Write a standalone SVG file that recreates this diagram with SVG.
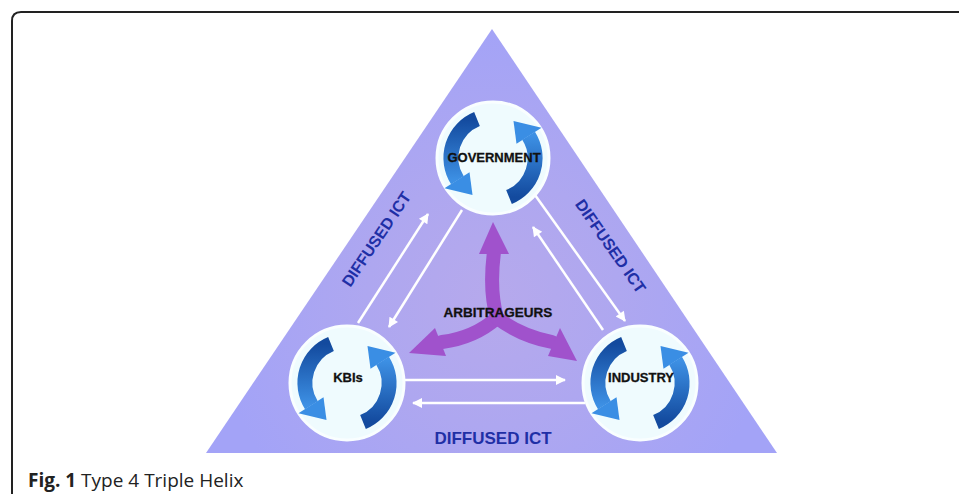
<svg xmlns="http://www.w3.org/2000/svg" width="959" height="494" viewBox="0 0 959 494">
<style>
.lbl{font-family:"Liberation Sans",Arial,sans-serif;font-weight:bold;fill:#111;stroke:#111;stroke-width:0.3;text-anchor:middle}
.ict{font-family:"Liberation Sans",Arial,sans-serif;font-weight:bold;fill:#1f2fa6;text-anchor:middle}
.wl{stroke:#ffffff;stroke-width:2.5;fill:none;marker-end:url(#wa)}
.pp{stroke:#a052cc;stroke-width:14;fill:none;stroke-linecap:round}
.ph{fill:#a052cc}
.circ{fill:#effbfe;stroke:#f9feff;stroke-width:3}
</style>
<defs>
<radialGradient id="tri" cx="493" cy="300" r="280" gradientUnits="userSpaceOnUse">
<stop offset="0" stop-color="#b6a9ec"/>
<stop offset="0.45" stop-color="#aea7f0"/>
<stop offset="1" stop-color="#a3a3f7"/>
</radialGradient>
<linearGradient id="gl" x1="0" y1="0" x2="0" y2="1">
<stop offset="0" stop-color="#134a9e"/>
<stop offset="1" stop-color="#3d90e4"/>
</linearGradient>
<linearGradient id="gr" x1="0" y1="1" x2="0" y2="0">
<stop offset="0" stop-color="#134a9e"/>
<stop offset="1" stop-color="#3d90e4"/>
</linearGradient>
<marker id="wa" viewBox="0 0 10 10" refX="9" refY="5" markerWidth="12" markerHeight="10" markerUnits="userSpaceOnUse" orient="auto">
<path d="M0,0 L10,5 L0,10 z" fill="#ffffff"/>
</marker>
<g id="cyc">
<path d="M-16,-39 A42 42 0 0 0 -35.6,22.3" fill="none" stroke="url(#gl)" stroke-width="15"/>
<polygon points="-48.5,30.2 -23.5,14.2 -20.5,37" fill="#3a8ee4"/>
<path d="M16,39 A42 42 0 0 0 35.6,-22.3" fill="none" stroke="url(#gr)" stroke-width="15"/>
<polygon points="48.5,-30.2 23.5,-14.2 20.5,-37" fill="#3a8ee4"/>
</g>
</defs>
<rect width="959" height="494" fill="#ffffff"/>
<path d="M12,494 L12,21 Q12,12 21,12 L959,12" fill="none" stroke="#222" stroke-width="2"/>
<polygon points="492,29 206,453 777,453" fill="url(#tri)"/>

<g id="connectors">
<line class="wl" x1="358" y1="323" x2="428" y2="214"/>
<line class="wl" x1="462" y1="210" x2="389" y2="327"/>
<line class="wl" x1="535" y1="195" x2="625" y2="321"/>
<line class="wl" x1="603" y1="330" x2="533" y2="227"/>
<line class="wl" x1="405" y1="380" x2="565" y2="380"/>
<line class="wl" x1="585" y1="403" x2="413" y2="403"/>
</g>

<g id="arbitrageurs">
<path class="pp" d="M497,318 Q489,290 494,252"/>
<polygon class="ph" points="479,254 509,254 493,222"/>
<path class="pp" d="M497,318 Q474,338 442,342"/>
<polygon class="ph" points="435,328 446,356 409,353"/>
<path class="pp" d="M497,318 Q521,336 552,342"/>
<polygon class="ph" points="560,328 548,356 577,361"/>
<text class="lbl" x="498" y="317" font-size="13.5">ARBITRAGEURS</text>
</g>

<g id="government">
<circle class="circ" cx="493" cy="158" r="56"/>
<use href="#cyc" x="493" y="158"/>
<text class="lbl" x="494" y="162" font-size="13">GOVERNMENT</text>
</g>
<g id="kbis">
<circle class="circ" cx="347" cy="383" r="57"/>
<use href="#cyc" x="347" y="383"/>
<text class="lbl" x="348" y="382" font-size="13">KBIs</text>
</g>
<g id="industry">
<circle class="circ" cx="640" cy="383" r="57"/>
<use href="#cyc" x="640" y="383"/>
<text class="lbl" x="641" y="382" font-size="13">INDUSTRY</text>
</g>

<text class="ict" font-size="16" transform="translate(376,239) rotate(-56)" x="0" y="6">DIFFUSED ICT</text>
<text class="ict" font-size="16" transform="translate(611,246) rotate(55)" x="0" y="6">DIFFUSED ICT</text>
<text class="ict" font-size="17" x="493" y="444">DIFFUSED ICT</text>

<text x="28" y="487" font-family="'Open Sans','Noto Sans',sans-serif" font-size="19" fill="#222"><tspan font-weight="bold">Fig. 1</tspan> Type 4 Triple Helix</text>
</svg>
